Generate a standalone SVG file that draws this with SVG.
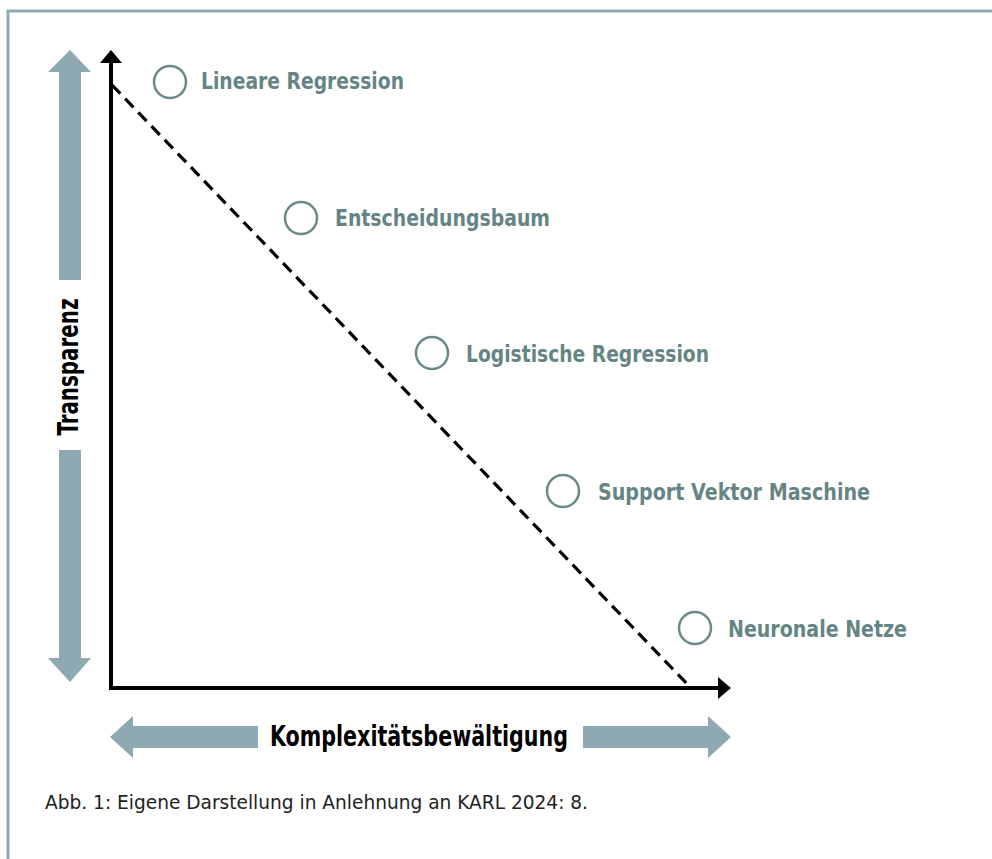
<svg xmlns="http://www.w3.org/2000/svg" width="992" height="859" viewBox="0 0 992 859">
<style>
.frame{fill:none;stroke:#8FA8B2;stroke-width:3}
.garrow{fill:#8FA9B3}
.axis{stroke:#000;stroke-width:4;fill:none}
.dash{stroke:#000;stroke-width:3.2;stroke-dasharray:12 7;fill:none}
.node circle{fill:none;stroke:#6A8A8A;stroke-width:2.5}
.node text{font-family:"Liberation Sans Narrow","DejaVu Sans Condensed","Liberation Sans",sans-serif;font-weight:bold;font-size:23px;fill:#658585}
.lab{font-family:"Liberation Sans Narrow","DejaVu Sans Condensed","Liberation Sans",sans-serif;font-weight:bold;font-size:28px;fill:#000}
.cap{font-family:"Liberation Sans Narrow","DejaVu Sans Condensed","Liberation Sans",sans-serif;font-size:20px;fill:#222}
</style>
<rect x="0" y="0" width="992" height="859" fill="#fff"/>
<path class="frame" d="M8,870 V11 H1000"/>
<g id="transparenz-arrow">
<polygon class="garrow" points="70,50 91,72 81,72 81,280 59,280 59,72 48,72"/>
<polygon class="garrow" points="59,450 81,450 81,658 91,658 70,682 48,658 59,658"/>
<text class="lab" transform="translate(78,367) rotate(-90)" text-anchor="middle" textLength="137" lengthAdjust="spacingAndGlyphs">Transparenz</text>
</g>
<g id="komplex-arrow">
<polygon class="garrow" points="110,737 133,716 133,726 258,726 258,748 133,748 133,758"/>
<polygon class="garrow" points="583,726 708,726 708,716 731,737 708,758 708,748 583,748"/>
<text class="lab" x="419" y="746" text-anchor="middle" textLength="298" lengthAdjust="spacingAndGlyphs">Komplexitätsbewältigung</text>
</g>
<g id="connectors">
<path class="axis" d="M111,60 V688 H720"/>
<polygon points="111,50 122,63 100,63" fill="#000"/>
<polygon points="731,688 718,677 718,699" fill="#000"/>
<path class="dash" d="M112,85 L691,688"/>
</g>
<g id="n1" class="node"><circle cx="170" cy="82" r="16"/><text x="201" y="89" textLength="203" lengthAdjust="spacingAndGlyphs">Lineare Regression</text></g>
<g id="n2" class="node"><circle cx="301" cy="218" r="16"/><text x="335" y="226" textLength="215" lengthAdjust="spacingAndGlyphs">Entscheidungsbaum</text></g>
<g id="n3" class="node"><circle cx="432" cy="353" r="16"/><text x="466" y="362" textLength="243" lengthAdjust="spacingAndGlyphs">Logistische Regression</text></g>
<g id="n4" class="node"><circle cx="563" cy="491" r="16"/><text x="598" y="500" textLength="272" lengthAdjust="spacingAndGlyphs">Support Vektor Maschine</text></g>
<g id="n5" class="node"><circle cx="695" cy="628" r="16"/><text x="728" y="637" textLength="179" lengthAdjust="spacingAndGlyphs">Neuronale Netze</text></g>
<text class="cap" x="45" y="809" textLength="543" lengthAdjust="spacingAndGlyphs">Abb. 1: Eigene Darstellung in Anlehnung an KARL 2024: 8.</text>
</svg>
